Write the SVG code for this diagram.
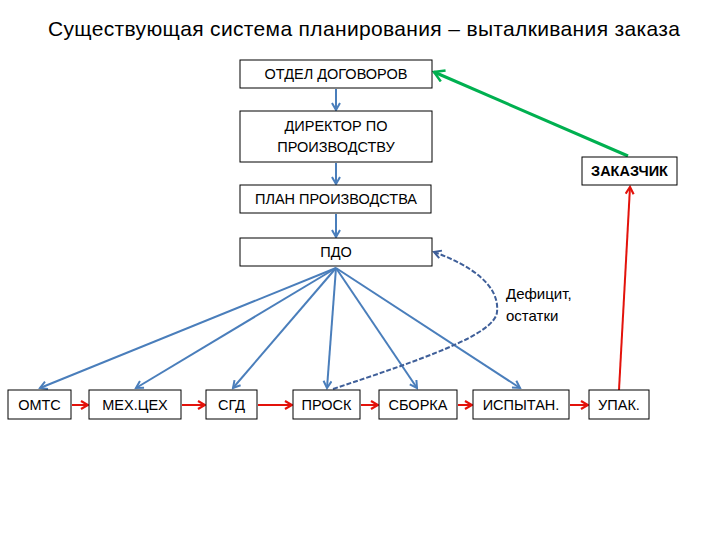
<svg xmlns="http://www.w3.org/2000/svg" width="720" height="540" viewBox="0 0 720 540">
<style>
.box{fill:#fff;stroke:#000;stroke-width:1}
.t{font-family:"Liberation Sans",Arial,sans-serif;font-size:14.5px;fill:#000;text-anchor:middle}
.b{stroke:#4a7ebb;stroke-width:2;fill:none;marker-end:url(#ab)}
.r{stroke:#e3120b;stroke-width:2;fill:none;marker-end:url(#ar)}
</style>
<defs>
<marker id="ab" markerWidth="10" markerHeight="10" refX="8" refY="5" orient="auto" markerUnits="userSpaceOnUse"><path d="M1,1 L8,5 L1,9" fill="none" stroke="#4a7ebb" stroke-width="2"/></marker>
<marker id="ar" markerWidth="10" markerHeight="10" refX="8" refY="5" orient="auto" markerUnits="userSpaceOnUse"><path d="M1,1 L8,5 L1,9" fill="none" stroke="#e3120b" stroke-width="2.2"/></marker>
<marker id="ag" markerWidth="14" markerHeight="14" refX="11" refY="7" orient="auto" markerUnits="userSpaceOnUse"><path d="M1,1 L11,7 L1,13" fill="none" stroke="#00b050" stroke-width="2.5"/></marker>
<marker id="ad" markerWidth="10" markerHeight="10" refX="8" refY="5" orient="auto" markerUnits="userSpaceOnUse"><path d="M1,1 L8,5 L1,9" fill="none" stroke="#3f5f99" stroke-width="2"/></marker>
</defs>
<rect width="720" height="540" fill="#fff"/>
<text x="48" y="36" font-family="'Liberation Sans',Arial,sans-serif" font-size="21" textLength="632" lengthAdjust="spacing" fill="#000">Существующая система планирования – выталкивания заказа</text>

<g id="connectors">
<line class="b" x1="336" y1="89" x2="336" y2="110"/>
<line class="b" x1="336" y1="163" x2="336" y2="184"/>
<line class="b" x1="336" y1="214" x2="336" y2="237"/>
<line class="b" x1="336" y1="268" x2="40" y2="388"/>
<line class="b" x1="336" y1="268" x2="136" y2="388"/>
<line class="b" x1="336" y1="268" x2="233" y2="388"/>
<line class="b" x1="336" y1="268" x2="327" y2="388"/>
<line class="b" x1="336" y1="268" x2="417" y2="388"/>
<line class="b" x1="336" y1="268" x2="520" y2="388"/>
<line class="r" x1="72" y1="405" x2="88" y2="405"/>
<line class="r" x1="182" y1="405" x2="205" y2="405"/>
<line class="r" x1="258" y1="405" x2="292" y2="405" stroke-width="3"/>
<line class="r" x1="361" y1="405" x2="378" y2="405"/>
<line class="r" x1="458" y1="405" x2="472" y2="405"/>
<line class="r" x1="570" y1="405" x2="588" y2="405"/>
<line class="r" x1="619" y1="390" x2="630" y2="187"/>
<line x1="628" y1="156" x2="434" y2="72" stroke="#00b050" stroke-width="3" marker-end="url(#ag)"/>
<path d="M333,389 C420,360 495,335 497,312 C500,285 470,265 434,252" fill="none" stroke="#3f5f99" stroke-width="2" stroke-dasharray="5,2" marker-end="url(#ad)"/>
</g>

<g id="n-otdel"><rect class="box" x="240" y="60" width="192" height="28"/><text class="t" x="336" y="79">ОТДЕЛ ДОГОВОРОВ</text></g>
<g id="n-director"><rect class="box" x="240" y="111" width="192" height="51"/><text class="t" x="336" y="131">ДИРЕКТОР ПО</text><text class="t" x="336" y="152">ПРОИЗВОДСТВУ</text></g>
<g id="n-plan"><rect class="box" x="240" y="185" width="191" height="28"/><text class="t" x="336" y="204">ПЛАН ПРОИЗВОДСТВА</text></g>
<g id="n-pdo"><rect class="box" x="240" y="238" width="192" height="28"/><text class="t" x="336" y="257">ПДО</text></g>
<g id="n-zakazchik"><rect class="box" x="582" y="157" width="95" height="28"/><text class="t" x="629.5" y="176" font-weight="bold">ЗАКАЗЧИК</text></g>
<g id="n-omts"><rect class="box" x="8" y="390" width="63" height="29"/><text class="t" x="39.5" y="410">ОМТС</text></g>
<g id="n-meh"><rect class="box" x="89" y="390" width="92" height="29"/><text class="t" x="135" y="410">МЕХ.ЦЕХ</text></g>
<g id="n-sgd"><rect class="box" x="206" y="390" width="51" height="29"/><text class="t" x="231.5" y="410">СГД</text></g>
<g id="n-prosk"><rect class="box" x="293" y="390" width="67" height="29"/><text class="t" x="326.5" y="410">ПРОСК</text></g>
<g id="n-sborka"><rect class="box" x="379" y="390" width="78" height="29"/><text class="t" x="418" y="410">СБОРКА</text></g>
<g id="n-ispytan"><rect class="box" x="473" y="390" width="96" height="29"/><text class="t" x="521" y="410">ИСПЫТАН.</text></g>
<g id="n-upak"><rect class="box" x="589" y="390" width="60" height="29"/><text class="t" x="619" y="410">УПАК.</text></g>

<text x="506" y="299" font-family="'Liberation Sans',Arial,sans-serif" font-size="15" fill="#000">Дефицит,</text>
<text x="506" y="321" font-family="'Liberation Sans',Arial,sans-serif" font-size="15" fill="#000">остатки</text>
</svg>
